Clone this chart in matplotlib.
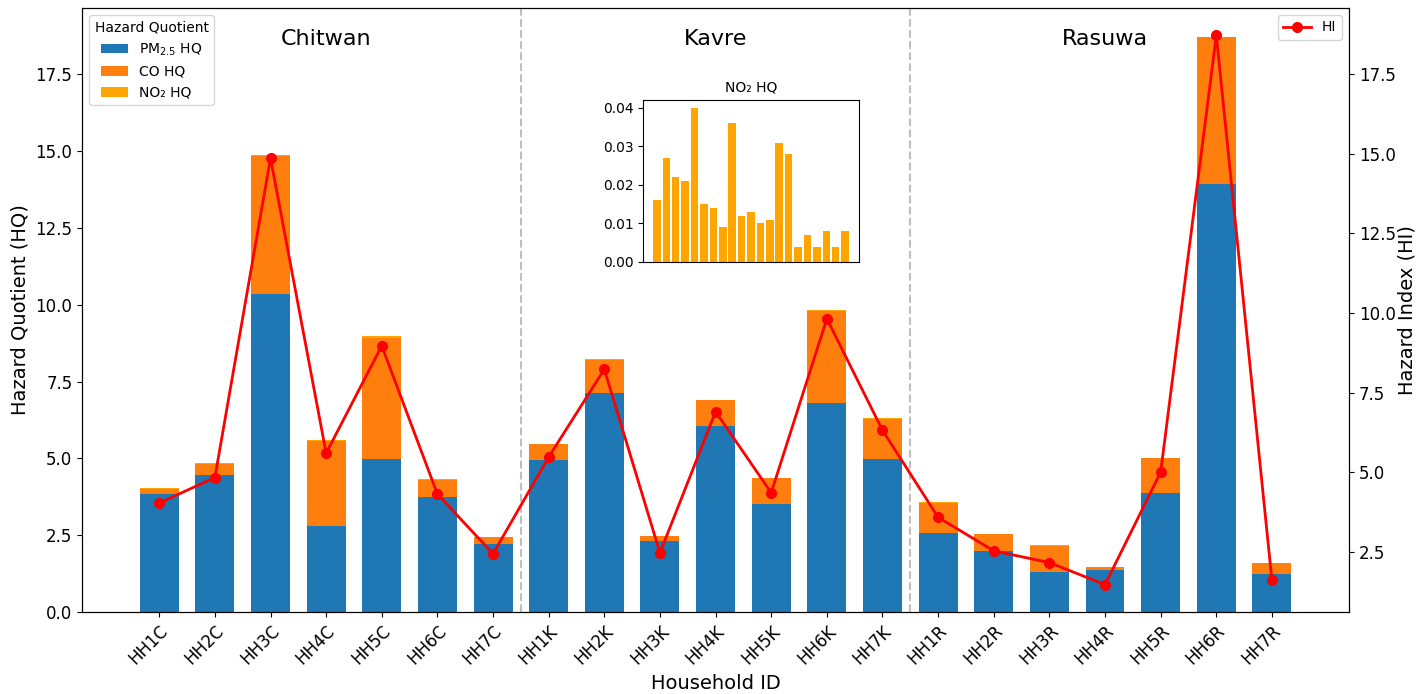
import matplotlib
matplotlib.use("Agg")
import matplotlib.pyplot as plt
import numpy as np

households = ["HH1C", "HH2C", "HH3C", "HH4C", "HH5C", "HH6C", "HH7C",
              "HH1K", "HH2K", "HH3K", "HH4K", "HH5K", "HH6K", "HH7K",
              "HH1R", "HH2R", "HH3R", "HH4R", "HH5R", "HH6R", "HH7R"]
pm25_hq = [3.85, 4.46, 10.35, 2.79, 4.97, 3.73, 2.21,
           4.96, 7.12, 2.31, 6.05, 3.53, 6.80, 4.99,
           2.56, 2.00, 1.31, 1.37, 3.87, 13.91, 1.25]
co_hq = [0.17, 0.35, 4.49, 2.79, 3.96, 0.57, 0.22,
         0.51, 1.08, 0.15, 0.84, 0.82, 3.01, 1.30,
         1.00, 0.53, 0.85, 0.10, 1.13, 4.80, 0.35]
no2_hq = [0.016, 0.027, 0.022, 0.021, 0.040, 0.015, 0.014,
          0.009, 0.036, 0.012, 0.013, 0.010, 0.011, 0.031,
          0.028, 0.004, 0.007, 0.004, 0.008, 0.004, 0.008]
regions = ["Chitwan", "Kavre", "Rasuwa"]
region_centers = [3, 10, 17]
region_bounds = [6.5, 13.5]

pm = np.array(pm25_hq)
co = np.array(co_hq)
no2 = np.array(no2_hq)
hi = pm + co + no2
x = np.arange(len(households))

fig = plt.figure(figsize=(14.17, 6.94), dpi=100)
ax = fig.add_axes([0.058, 0.118, 0.894, 0.8705])

ax.bar(x, pm, width=0.7, color="#1f77b4", label="PM$_{2.5}$ HQ")
ax.bar(x, co, width=0.7, bottom=pm, color="#ff7f0e", label="CO HQ")
ax.bar(x, no2, width=0.7, bottom=pm + co, color="#ffa500", label="NO₂ HQ")

for xb in region_bounds:
    ax.axvline(xb, color="gray", linestyle="--", alpha=0.5, linewidth=1.5)

for name, xc in zip(regions, region_centers):
    ax.text(xc, 18.64, name, ha="center", va="center", fontsize=16)

ax.set_xticks(x)
ax.set_xticklabels(households, rotation=45, ha="right", rotation_mode="anchor", fontsize=12)
ax.tick_params(axis="y", labelsize=12)
ax.set_xlabel("Household ID", fontsize=14)
ax.set_ylabel("Hazard Quotient (HQ)", fontsize=14)
ax.legend(title="Hazard Quotient", loc="upper left", fontsize=10, title_fontsize=10)

ax2 = ax.twinx()
ax2.plot(x, hi, color="red", marker="o", linewidth=2, markersize=7, label="HI")
ax2.set_ylabel("Hazard Index (HI)", fontsize=14, labelpad=1)
ax2.tick_params(axis="y", labelsize=12)
ax2.legend(loc="upper right", fontsize=10)

ins = fig.add_axes([0.454, 0.6225, 0.152, 0.233])
ins.bar(x, no2, color="#ffa500")
ins.set_xticks([])
ins.set_title("NO₂ HQ", fontsize=10)
ins.tick_params(axis="y", labelsize=10)

fig.savefig("out.png", dpi=100)
